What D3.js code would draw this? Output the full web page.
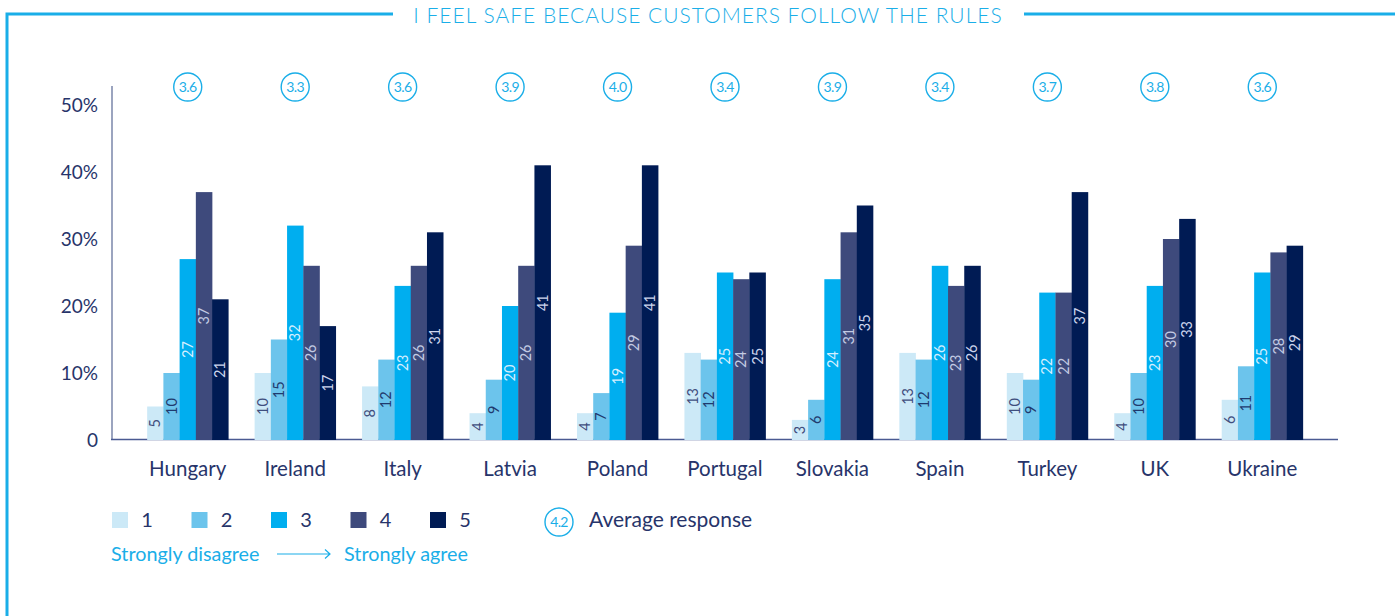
<!DOCTYPE html>
<html>
<head>
<meta charset="utf-8">
<script src="https://cdn.jsdelivr.net/npm/d3@7.9.0/dist/d3.min.js"></script>
<style>
  html, body { margin: 0; padding: 0; background: #fff; }
  svg { display: block; font-family: Lato, "Open Sans", sans-serif; }
</style>
</head>
<body>
<svg id="chart" width="1395" height="616"></svg>
<script>
/* ---------------- DATA ---------------- */
const title = "I FEEL SAFE BECAUSE CUSTOMERS FOLLOW THE RULES";
const countries = ["Hungary", "Ireland", "Italy", "Latvia", "Poland", "Portugal", "Slovakia", "Spain", "Turkey", "UK", "Ukraine"];
const responses = ["1", "2", "3", "4", "5"];
const values1 = [5, 10, 8, 4, 4, 13, 3, 13, 10, 4, 6];
const values2 = [10, 15, 12, 9, 7, 12, 6, 12, 9, 10, 11];
const values3 = [27, 32, 23, 20, 19, 25, 24, 26, 22, 23, 25];
const values4 = [37, 26, 26, 26, 29, 24, 31, 23, 22, 30, 28];
const values5 = [21, 17, 31, 41, 41, 25, 35, 26, 37, 33, 29];
const averages = ["3.6", "3.3", "3.6", "3.9", "4.0", "3.4", "3.9", "3.4", "3.7", "3.8", "3.6"];
const yTicks = [0, 10, 20, 30, 40, 50];

const series = [values1, values2, values3, values4, values5];
const colors = ["#cce9f7", "#6cc4ec", "#00aeef", "#3e4a7c", "#001b54"];
const labelColors = ["#3f4e7e", "#1f3a6e", "#d4efff", "#c3cbe3", "#ccd4ec"];
const accent = "#1aaee8";
const navy = "#27346a";

const svg = d3.select("#chart");

/* ---------------- FRAME + TITLE ---------------- */
svg.append("path")
  .attr("d", "M7,616 V14 H393 M1024,14 H1395")
  .attr("fill", "none")
  .attr("stroke", accent)
  .attr("stroke-width", 3);

svg.append("text")
  .attr("x", 708).attr("y", 23)
  .attr("text-anchor", "middle")
  .attr("font-size", 21)
  .attr("font-weight", 300)
  .attr("letter-spacing", 1)
  .attr("fill", accent)
  .text(title);

/* ---------------- SCALES ---------------- */
const x = d3.scaleBand()
  .domain(countries)
  .range([134, 1316])
  .paddingInner(0.245)
  .paddingOuter(0.1225);

const xSub = d3.scaleBand()
  .domain(responses)
  .range([0, x.bandwidth()]);

const y = d3.scaleLinear()
  .domain([0, 50])
  .range([440, 105]);

/* ---------------- AXES ---------------- */
svg.append("line")
  .attr("x1", 112).attr("x2", 112)
  .attr("y1", 86).attr("y2", 440)
  .attr("stroke", "#7a86aa").attr("stroke-width", 1.5);

svg.append("line")
  .attr("x1", 111).attr("x2", 1338)
  .attr("y1", 439.5).attr("y2", 439.5)
  .attr("stroke", "#4a5a92").attr("stroke-width", 1.5);

svg.append("g")
  .selectAll("text")
  .data(yTicks)
  .join("text")
  .attr("x", 98)
  .attr("y", d => y(d))
  .attr("dy", "0.35em")
  .attr("text-anchor", "end")
  .attr("font-size", 19)
  .attr("fill", navy)
  .text(d => d === 0 ? "0" : d + "%");

svg.append("g")
  .selectAll("text")
  .data(countries)
  .join("text")
  .attr("x", d => x(d) + x.bandwidth() / 2)
  .attr("y", 476)
  .attr("text-anchor", "middle")
  .attr("font-size", 20.5)
  .attr("fill", navy)
  .text(d => d);

/* ---------------- BARS ---------------- */
const groups = svg.append("g")
  .selectAll("g")
  .data(countries)
  .join("g")
  .attr("transform", d => `translate(${x(d)},0)`);

const cells = groups.selectAll("g")
  .data((c, ci) => responses.map((r, ri) => ({ r, ri, v: series[ri][ci] })))
  .join("g");

cells.append("rect")
  .attr("x", d => xSub(d.r))
  .attr("y", d => y(d.v))
  .attr("width", xSub.bandwidth() + 0.3)
  .attr("height", d => y(0) - y(d.v))
  .attr("fill", d => colors[d.ri]);

cells.append("text")
  .attr("transform", d => `translate(${xSub(d.r) + xSub.bandwidth() / 2},${(y(d.v) + y(0)) / 2}) rotate(-90)`)
  .attr("text-anchor", "middle")
  .attr("dy", "0.35em")
  .attr("font-size", 14.5)
  .attr("fill", d => labelColors[d.ri])
  .text(d => d.v);

/* ---------------- AVERAGES ---------------- */
const avg = svg.append("g")
  .selectAll("g")
  .data(countries)
  .join("g")
  .attr("transform", d => `translate(${x(d) + x.bandwidth() / 2},87)`);

avg.append("circle")
  .attr("r", 14)
  .attr("fill", "#fff")
  .attr("stroke", accent)
  .attr("stroke-width", 1.4);

avg.append("text")
  .attr("text-anchor", "middle")
  .attr("dy", "0.36em")
  .attr("font-size", 14)
  .attr("letter-spacing", -0.6)
  .attr("fill", accent)
  .text((d, i) => averages[i]);

/* ---------------- LEGEND ---------------- */
const legend = svg.append("g").attr("transform", "translate(112,512)");

const items = legend.selectAll("g")
  .data(responses)
  .join("g")
  .attr("transform", (d, i) => `translate(${i * 79.5},0)`);

items.append("rect")
  .attr("width", 16).attr("height", 16)
  .attr("fill", (d, i) => colors[i]);

items.append("text")
  .attr("x", 35).attr("y", 8)
  .attr("dy", "0.35em")
  .attr("text-anchor", "middle")
  .attr("font-size", 20)
  .attr("fill", navy)
  .text(d => d);

svg.append("circle")
  .attr("cx", 559).attr("cy", 522).attr("r", 14)
  .attr("fill", "#fff").attr("stroke", accent).attr("stroke-width", 1.4);

svg.append("text")
  .attr("x", 559).attr("y", 522).attr("dy", "0.36em")
  .attr("text-anchor", "middle")
  .attr("font-size", 14).attr("letter-spacing", -0.6).attr("fill", accent)
  .text("4.2");

svg.append("text")
  .attr("x", 589).attr("y", 520).attr("dy", "0.35em")
  .attr("font-size", 21).attr("fill", navy)
  .text("Average response");

svg.append("text")
  .attr("x", 111).attr("y", 561)
  .attr("font-size", 19.8).attr("fill", accent)
  .text("Strongly disagree");

svg.append("path")
  .attr("d", "M277,554 H330 M325,549.5 L330,554 L325,558.5")
  .attr("fill", "none").attr("stroke", accent).attr("stroke-width", 1.2);

svg.append("text")
  .attr("x", 344).attr("y", 561)
  .attr("font-size", 19.8).attr("fill", accent)
  .text("Strongly agree");
</script>
</body>
</html>
